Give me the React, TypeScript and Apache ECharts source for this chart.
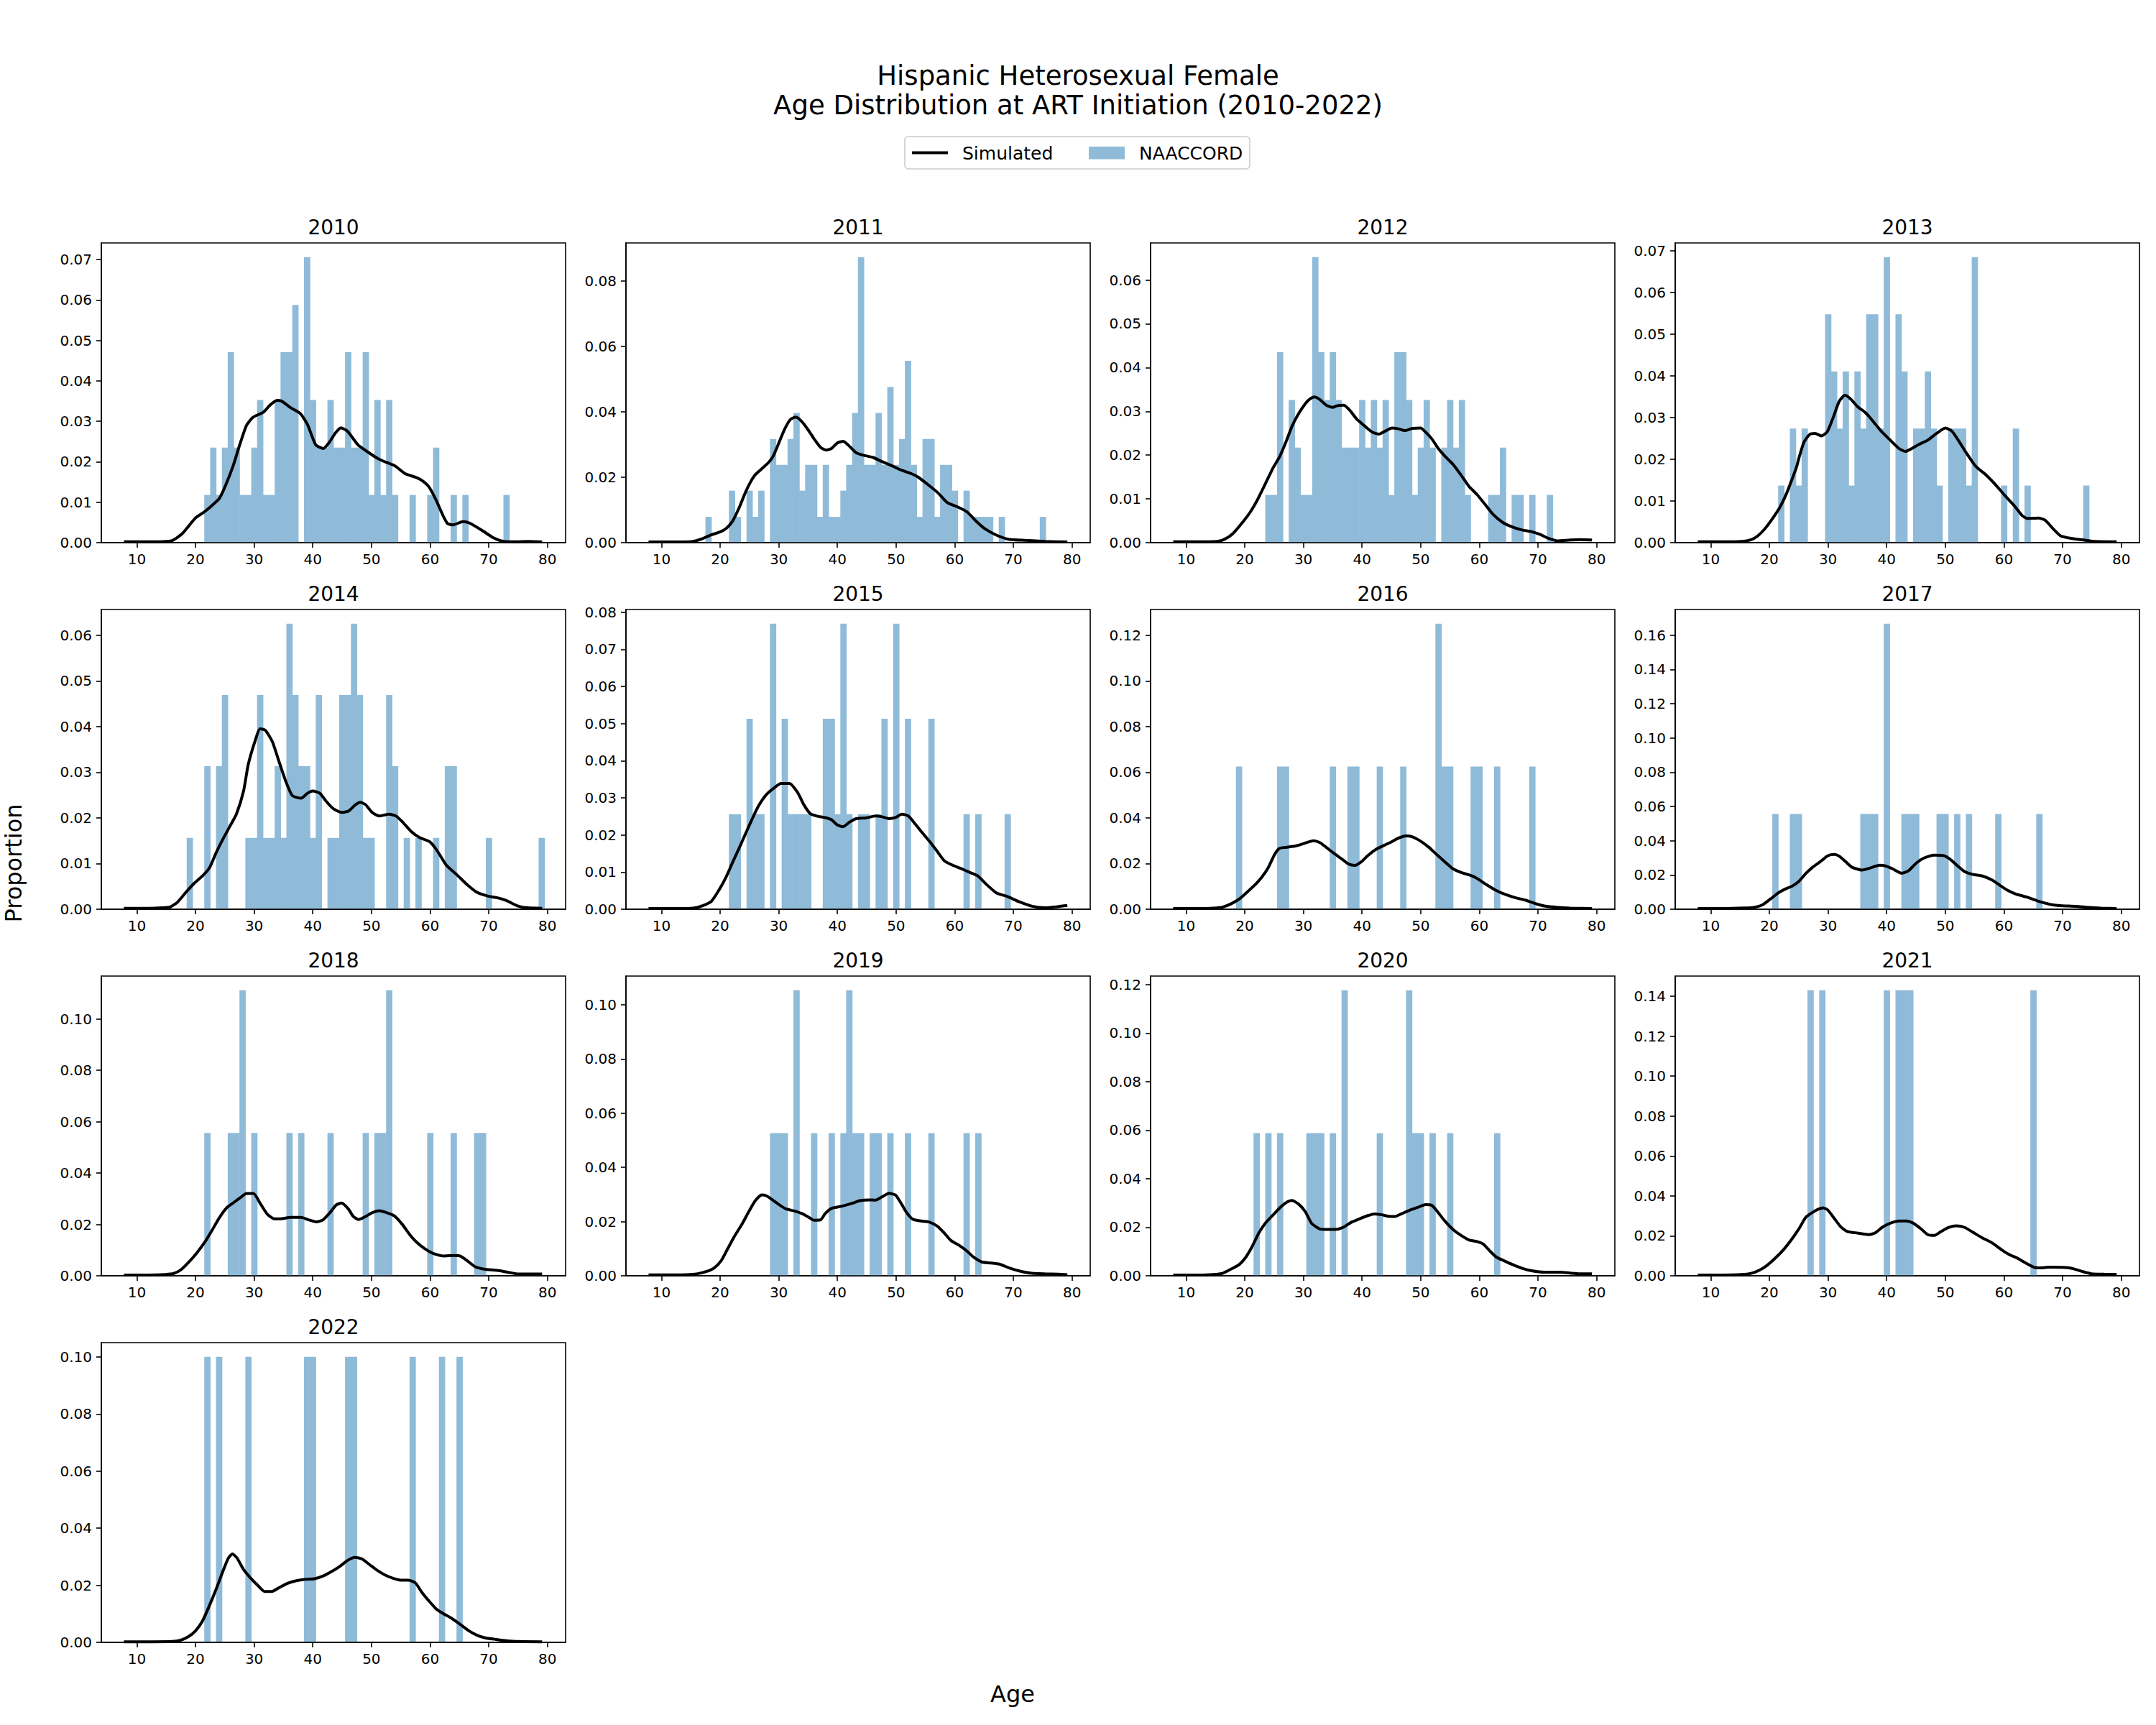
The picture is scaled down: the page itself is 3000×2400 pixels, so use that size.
import React, { useEffect, useRef } from "react";
import * as echarts from "echarts";

type Pt = [number, number];

const YEARS = [2010, 2011, 2012, 2013, 2014, 2015, 2016, 2017, 2018, 2019, 2020, 2021, 2022];
const X_TICKS = [10, 20, 30, 40, 50, 60, 70, 80];
const X_MIN = 3.95;
const X_MAX = 83.1;
const Y_TICK_STEPS = [0.01, 0.02, 0.01, 0.01, 0.01, 0.01, 0.02, 0.02, 0.02, 0.02, 0.02, 0.02, 0.02];

// NAACCORD histogram bars: [age, proportion]
const NAACCORD_2010: Pt[] = [[22,.0118],[23,.0235],[24,.0118],[25,.0235],[26,.0471],[27,.0235],[28,.0118],[29,.0118],[30,.0235],[31,.0353],[32,.0118],[33,.0118],[34,.0353],[35,.0471],[36,.0471],[37,.0588],[39,.0706],[40,.0353],[41,.0235],[42,.0235],[43,.0353],[44,.0235],[45,.0235],[46,.0471],[47,.0235],[48,.0235],[49,.0471],[50,.0118],[51,.0353],[52,.0118],[53,.0353],[54,.0118],[57,.0118],[60,.0118],[61,.0235],[64,.0118],[66,.0118],[73,.0118]];
const NAACCORD_2011: Pt[] = [[18,.0079],[22,.0159],[23,.0079],[25,.0159],[26,.0079],[27,.0159],[29,.0317],[30,.0238],[31,.0238],[32,.0317],[33,.0397],[34,.0159],[35,.0238],[36,.0238],[37,.0079],[38,.0238],[39,.0079],[40,.0079],[41,.0159],[42,.0238],[43,.0397],[44,.0873],[45,.0238],[46,.0238],[47,.0397],[48,.0238],[49,.0476],[50,.0238],[51,.0317],[52,.0556],[53,.0238],[54,.0079],[55,.0317],[56,.0317],[57,.0079],[58,.0238],[59,.0238],[60,.0159],[62,.0159],[63,.0079],[64,.0079],[65,.0079],[66,.0079],[68,.0079],[75,.0079]];
const NAACCORD_2012: Pt[] = [[24,.0109],[25,.0109],[26,.0435],[28,.0326],[29,.0217],[30,.0109],[31,.0109],[32,.0652],[33,.0435],[34,.0326],[35,.0435],[36,.0326],[37,.0217],[38,.0217],[39,.0217],[40,.0326],[41,.0217],[42,.0326],[43,.0217],[44,.0326],[45,.0109],[46,.0435],[47,.0435],[48,.0326],[49,.0109],[50,.0217],[51,.0326],[52,.0217],[54,.0217],[55,.0326],[56,.0217],[57,.0326],[58,.0109],[62,.0109],[63,.0109],[64,.0217],[66,.0109],[67,.0109],[69,.0109],[72,.0109]];
const NAACCORD_2013: Pt[] = [[22,.0137],[24,.0274],[25,.0137],[26,.0274],[30,.0548],[31,.0411],[32,.0274],[33,.0411],[34,.0137],[35,.0411],[36,.0274],[37,.0548],[38,.0548],[39,.0274],[40,.0685],[42,.0548],[43,.0411],[45,.0274],[46,.0274],[47,.0411],[48,.0274],[49,.0137],[51,.0274],[52,.0274],[53,.0274],[54,.0137],[55,.0685],[60,.0137],[62,.0274],[64,.0137],[74,.0137]];
const NAACCORD_2014: Pt[] = [[19,.0156],[22,.0313],[24,.0313],[25,.0469],[29,.0156],[30,.0156],[31,.0469],[32,.0156],[33,.0156],[34,.0313],[35,.0156],[36,.0625],[37,.0469],[38,.0313],[39,.0313],[40,.0156],[41,.0469],[43,.0156],[44,.0156],[45,.0469],[46,.0469],[47,.0625],[48,.0469],[49,.0156],[50,.0156],[53,.0469],[54,.0313],[56,.0156],[58,.0156],[61,.0156],[63,.0313],[64,.0313],[70,.0156],[79,.0156]];
const NAACCORD_2015: Pt[] = [[22,.0256],[23,.0256],[25,.0513],[26,.0256],[27,.0256],[29,.0769],[31,.0513],[32,.0256],[33,.0256],[34,.0256],[35,.0256],[38,.0513],[39,.0513],[40,.0256],[41,.0769],[42,.0256],[44,.0256],[45,.0256],[47,.0256],[48,.0513],[50,.0769],[52,.0513],[56,.0513],[62,.0256],[64,.0256],[69,.0256]];
const NAACCORD_2016: Pt[] = [[19,.0625],[26,.0625],[27,.0625],[35,.0625],[38,.0625],[39,.0625],[43,.0625],[47,.0625],[53,.125],[54,.0625],[55,.0625],[59,.0625],[60,.0625],[63,.0625],[69,.0625]];
const NAACCORD_2017: Pt[] = [[21,.0556],[24,.0556],[25,.0556],[36,.0556],[37,.0556],[38,.0556],[40,.1667],[43,.0556],[44,.0556],[45,.0556],[49,.0556],[50,.0556],[52,.0556],[54,.0556],[59,.0556],[66,.0556]];
const NAACCORD_2018: Pt[] = [[22,.0556],[26,.0556],[27,.0556],[28,.1111],[30,.0556],[36,.0556],[38,.0556],[43,.0556],[49,.0556],[51,.0556],[52,.0556],[53,.1111],[60,.0556],[64,.0556],[68,.0556],[69,.0556]];
const NAACCORD_2019: Pt[] = [[29,.0526],[30,.0526],[31,.0526],[33,.1053],[36,.0526],[39,.0526],[41,.0526],[42,.1053],[43,.0526],[44,.0526],[46,.0526],[47,.0526],[49,.0526],[52,.0526],[56,.0526],[62,.0526],[64,.0526]];
const NAACCORD_2020: Pt[] = [[22,.0588],[24,.0588],[26,.0588],[31,.0588],[32,.0588],[33,.0588],[35,.0588],[37,.1176],[43,.0588],[48,.1176],[49,.0588],[50,.0588],[52,.0588],[55,.0588],[63,.0588]];
const NAACCORD_2021: Pt[] = [[27,.1429],[29,.1429],[40,.1429],[42,.1429],[43,.1429],[44,.1429],[65,.1429]];
const NAACCORD_2022: Pt[] = [[22,.1],[24,.1],[29,.1],[39,.1],[40,.1],[46,.1],[47,.1],[57,.1],[62,.1],[65,.1]];

// Simulated density curves: [age, density]
const SIMULATED_2010: Pt[] = [[7.8,.0002],[12,.0002],[16,.0005],[17.8,.0023],[20,.0061],[21.5,.0076],[22.9,.0093],[24.1,.011],[25.2,.0144],[26.4,.0189],[27.5,.024],[28.7,.029],[29.8,.031],[31.6,.0323],[32.7,.034],[33.9,.0352],[34.7,.035],[36.2,.0334],[37.9,.0319],[39.1,.0292],[40.5,.0242],[41.8,.0233],[42.8,.0248],[43.9,.0272],[44.8,.0284],[45.9,.0276],[47.7,.0242],[49.4,.0224],[51.1,.0208],[52.3,.02],[54,.019],[55.8,.017],[57.5,.0162],[58.6,.0154],[59.8,.0138],[61,.0106],[62.2,.0067],[63,.0047],[63.9,.0044],[65.6,.0052],[66.8,.0048],[69.1,.0028],[70.8,.0012],[72.6,.0003],[74.8,.0002],[76.6,.0003],[79.1,.0002]];
const SIMULATED_2011: Pt[] = [[7.8,.0002],[12,.0002],[15.4,.0004],[17.1,.0013],[18.5,.0024],[19.9,.0032],[21,.0043],[22.1,.0065],[23.2,.0105],[24.3,.0153],[25.2,.0186],[26,.0208],[27.1,.0226],[28.2,.0244],[29,.0263],[29.9,.03],[31,.0347],[32,.0377],[32.9,.0384],[34,.0369],[35.2,.034],[36,.0318],[37.1,.0292],[38.1,.0283],[39,.0288],[40,.0305],[41,.031],[42.1,.0294],[43.2,.0275],[44.3,.0268],[46,.0261],[47.6,.0248],[49.3,.0235],[51,.0221],[52.6,.0211],[53.8,.02],[55.4,.0178],[57.1,.0153],[58.7,.0123],[60.4,.011],[62.1,.0094],[63.7,.0065],[65.1,.0043],[67.1,.0023],[69.3,.001],[72.1,.0007],[75.4,.0004],[79.2,.0002]];
const SIMULATED_2012: Pt[] = [[7.8,.0002],[12,.0002],[15.3,.0003],[16.6,.0008],[18,.0021],[19.9,.0051],[21,.0071],[22.1,.0096],[23.5,.0134],[24.8,.017],[25.9,.0195],[27,.0229],[28.1,.0267],[29.2,.0295],[30.3,.0317],[31.1,.0328],[31.9,.0333],[32.8,.0327],[33.9,.0314],[35,.0309],[35.8,.0313],[36.9,.0314],[38,.0301],[39.1,.0282],[40.4,.0267],[41.8,.0252],[42.9,.0248],[44,.0255],[45.1,.0262],[46.2,.026],[47.3,.0256],[48.6,.0261],[50,.0262],[50.8,.0253],[51.9,.0237],[53,.0215],[54.1,.0198],[55.5,.0179],[56.9,.0154],[58.2,.0129],[59.6,.011],[61,.0087],[62.3,.0065],[64,.0046],[65.6,.0036],[67.3,.0029],[68.9,.0025],[70.3,.0019],[71.6,.0011],[73.3,.0004],[75.5,.0006],[77.1,.0007],[79.2,.0006]];
const SIMULATED_2013: Pt[] = [[7.8,.0002],[12,.0002],[15.3,.0003],[16.9,.0007],[18,.0016],[19.1,.0031],[20.2,.0051],[21.8,.0085],[22.9,.0117],[23.7,.0146],[24.6,.018],[25.1,.0206],[25.9,.0241],[26.9,.026],[27.8,.0262],[28.9,.0256],[29.9,.0267],[30.9,.0301],[31.9,.0339],[32.9,.0354],[33.9,.0344],[35,.0327],[36.3,.0313],[37.1,.0301],[39.1,.0267],[40.4,.0249],[42.1,.0226],[43.2,.0219],[44.3,.0226],[45.4,.0235],[47,.0246],[48.4,.0261],[50,.0275],[51.1,.0268],[52.2,.0246],[53.6,.0215],[55.2,.0183],[56.9,.0163],[58.5,.014],[60.1,.0114],[61.8,.0088],[63.1,.0065],[64,.0058],[65.9,.0059],[67,.0054],[68.4,.0033],[69.7,.0016],[71.6,.001],[73.8,.0006],[75.5,.0003],[79.2,.0002]];
const SIMULATED_2014: Pt[] = [[7.8,.0002],[12,.0002],[14.3,.0003],[15.7,.0005],[16.9,.0015],[18.3,.0036],[19.8,.0057],[21.2,.0073],[22.4,.0091],[23.5,.0123],[24.7,.0154],[25.8,.018],[27,.0209],[28.2,.0259],[29,.0317],[30.2,.037],[31,.0395],[31.9,.0392],[33.1,.0367],[34.2,.0325],[35.4,.028],[36.5,.0249],[38,.0243],[39.1,.0254],[40,.0259],[41.2,.0254],[42.3,.0236],[43.5,.022],[44.9,.0212],[46.1,.0215],[47.2,.0228],[48.1,.0234],[49,.0229],[50.1,.0212],[51.3,.0204],[53,.0208],[54.2,.0204],[55.3,.0191],[56.8,.017],[58.2,.0157],[59.9,.0148],[61.1,.013],[62.8,.0096],[64.6,.0075],[66.3,.0054],[68,.0037],[69.8,.0029],[71.5,.0025],[73,.0019],[75,.0007],[76.7,.0003],[79.1,.0002]];
const SIMULATED_2015: Pt[] = [[7.8,.0002],[12,.0002],[15.4,.0003],[17.1,.001],[18.5,.0021],[19.9,.0054],[21,.0086],[22.1,.0125],[23.2,.0163],[24.3,.0202],[25.4,.0241],[26.5,.0277],[27.9,.0309],[29.3,.0328],[30.4,.0339],[31.8,.0339],[33.2,.0315],[34.3,.0281],[35.4,.0257],[36.5,.0251],[37.9,.0247],[39,.0241],[39.9,.0228],[40.9,.0222],[42.1,.0235],[43.2,.0244],[44.9,.0246],[46.5,.0251],[47.6,.0249],[48.8,.0244],[49.9,.0247],[51,.0256],[52.1,.0251],[53.2,.0231],[54.3,.0209],[55.7,.0183],[57.1,.0154],[58.2,.0131],[59.3,.0121],[61,.011],[62.6,.0099],[64,.0089],[65.4,.0067],[67.1,.0044],[69,.0034],[71,.002],[73.2,.0008],[75.4,.0004],[77.6,.0007],[79.2,.001]];
const SIMULATED_2016: Pt[] = [[7.8,.0003],[12,.0003],[14.7,.0005],[16.3,.001],[17.7,.0024],[19.1,.0045],[20.5,.0077],[21.8,.0108],[22.9,.014],[24,.0182],[25.1,.024],[25.9,.0266],[27,.0271],[28.7,.0277],[30,.0287],[31.7,.03],[32.8,.0292],[33.9,.0271],[35.2,.0245],[36.6,.0219],[37.7,.0198],[38.8,.0192],[39.9,.0208],[41,.0235],[42.3,.0261],[43.7,.0279],[44.8,.0292],[46.2,.0311],[47.5,.0321],[48.6,.0317],[50,.0298],[51.4,.0271],[52.7,.024],[54.1,.0208],[55.5,.0177],[56.9,.0161],[58.5,.0148],[59.6,.0135],[61.2,.0108],[62.9,.0082],[64.5,.0064],[66.2,.005],[67.8,.004],[69.4,.0026],[71.1,.0014],[73.3,.0008],[75.5,.0005],[79.2,.0003]];
const SIMULATED_2017: Pt[] = [[7.8,.0004],[12,.0004],[15.8,.0007],[17.4,.0011],[18.8,.0025],[20.2,.006],[21.5,.0095],[22.6,.0116],[24,.0137],[25.1,.0165],[26.2,.0208],[27.3,.0243],[28.7,.0278],[30,.0313],[31.1,.032],[31.9,.031],[33,.0278],[34.1,.0245],[35.8,.0229],[37.1,.024],[38.8,.0257],[39.9,.0252],[41,.0236],[42.6,.021],[43.7,.0224],[45.1,.0271],[46.5,.0301],[48.1,.0316],[49.7,.0313],[50.8,.0292],[52.2,.025],[53.3,.0219],[54.7,.0203],[56.3,.0194],[58,.017],[59.6,.0133],[60.7,.0109],[62.1,.0088],[64,.007],[65.6,.005],[67.8,.0029],[69.5,.0021],[72.2,.0017],[74.4,.001],[76.6,.0006],[79.2,.0004]];
const SIMULATED_2018: Pt[] = [[7.8,.0003],[12,.0003],[14.9,.0005],[16.3,.0009],[17.5,.0023],[18.9,.0054],[20.3,.0091],[21.8,.0138],[22.9,.018],[24.1,.0227],[25.3,.0264],[26.4,.0283],[27.6,.0303],[28.7,.032],[29.9,.032],[31,.0283],[32.2,.0241],[33.4,.0222],[34.5,.0222],[36.2,.0227],[38,.0227],[39.4,.0217],[40.6,.021],[41.7,.0217],[42.9,.0245],[44,.0276],[44.9,.0283],[46.1,.0259],[46.9,.0231],[47.8,.0219],[49,.0231],[50.1,.0245],[51.3,.0253],[52.4,.0247],[53.9,.0233],[55.3,.0199],[56.5,.0161],[57.6,.0133],[59.1,.0105],[60.5,.0087],[62.3,.0077],[64,.0079],[65.1,.0077],[66.3,.0059],[67.7,.0035],[69.2,.0026],[71.5,.0021],[73.2,.0014],[75,.0007],[77.3,.0007],[79.1,.0007]];
const SIMULATED_2019: Pt[] = [[7.8,.0003],[12,.0003],[14.3,.0004],[16,.0007],[17.7,.0016],[19,.0029],[20.2,.0056],[21.3,.01],[22.4,.0144],[23.8,.0193],[24.9,.0237],[26,.0277],[27.1,.0298],[27.9,.0295],[29,.0279],[30.2,.026],[31.3,.0246],[32.7,.0239],[34,.0229],[35.2,.0215],[36,.0205],[37.1,.0206],[37.9,.0229],[39,.0249],[40.4,.0255],[41.5,.0261],[42.6,.0268],[43.8,.0277],[45.4,.028],[46.5,.0279],[47.6,.0291],[48.8,.0304],[49.9,.0298],[50.7,.0273],[51.8,.0233],[52.9,.0208],[54.3,.0202],[55.7,.0198],[57.1,.0182],[58.2,.0158],[59.3,.0131],[60.7,.0113],[62.1,.0091],[63.2,.0069],[64.6,.0051],[66.2,.0047],[67.6,.0043],[69.3,.0029],[71,.0018],[73.2,.0009],[75.4,.0007],[77.6,.0006],[79.2,.0004]];
const SIMULATED_2020: Pt[] = [[7.8,.0003],[12,.0003],[14.7,.0005],[16.3,.0011],[17.7,.0028],[19.1,.0047],[20.2,.0077],[21.3,.0122],[22.4,.0176],[23.5,.0216],[24.8,.025],[26.2,.0285],[27.3,.0305],[28.1,.031],[29.2,.0295],[30.3,.0265],[31.4,.0216],[32.8,.0193],[34.1,.0191],[35.5,.0191],[36.9,.0201],[38.2,.0221],[39.6,.0235],[41,.0248],[42.1,.0255],[43.2,.0252],[44.6,.0245],[45.6,.0244],[46.7,.0255],[48.1,.027],[49.5,.0282],[50.8,.0293],[51.9,.029],[53,.026],[54.1,.0226],[55.5,.0191],[56.9,.0166],[58.2,.0148],[59.6,.0141],[60.7,.013],[61.8,.0102],[62.9,.0077],[64.2,.0062],[65.6,.0047],[67.3,.0031],[68.9,.0021],[71.1,.0015],[73.8,.0015],[75.5,.0011],[77.1,.0008],[79.2,.0008]];
const SIMULATED_2021: Pt[] = [[7.8,.0004],[12,.0004],[15.3,.0006],[16.9,.0012],[18.3,.0028],[19.6,.0052],[21,.0088],[22.4,.013],[23.7,.0178],[25.1,.0238],[26.2,.0292],[27.3,.0316],[28.4,.0334],[29.2,.034],[30,.0328],[31.1,.0286],[32.2,.0244],[33.3,.0222],[35,.0214],[36.9,.0206],[38,.0214],[39.3,.0244],[40.7,.0264],[42.1,.0274],[43.4,.0274],[44.5,.0264],[45.9,.0234],[47,.0206],[48.1,.0202],[49.2,.022],[50.6,.0242],[51.9,.025],[53.3,.0242],[54.7,.0218],[56.3,.019],[57.9,.0166],[59.6,.013],[60.9,.0106],[62.3,.0088],[63.7,.0064],[65.1,.0043],[66.2,.004],[67.8,.0043],[70,.0042],[71.6,.0037],[73.3,.0022],[74.9,.001],[77.1,.0008],[79.2,.0007]];
const SIMULATED_2022: Pt[] = [[7.8,.0002],[12,.0002],[16,.0003],[17.5,.0008],[18.8,.002],[20,.004],[21.2,.0075],[22.3,.0125],[23.5,.0185],[24.6,.0245],[25.6,.0295],[26.3,.031],[27.1,.0295],[28.2,.0255],[29.4,.0225],[30.6,.02],[31.8,.0178],[33,.0178],[34.3,.0192],[35.7,.0207],[37.2,.0216],[38.8,.0221],[40.3,.0223],[41.7,.0232],[43.2,.0248],[44.6,.0266],[46,.0288],[47.2,.0298],[48.4,.0292],[49.7,.0272],[51,.0252],[52.3,.0236],[53.6,.0225],[55,.0218],[56.3,.0218],[57.5,.0208],[58.6,.0175],[59.8,.0145],[61,.0118],[62.3,.01],[63.6,.0085],[65,.0065],[66.5,.0042],[68,.0025],[69.5,.0015],[71,.0011],[73,.0006],[75,.0003],[79.1,.0002]];

const NAACCORD = [NAACCORD_2010, NAACCORD_2011, NAACCORD_2012, NAACCORD_2013, NAACCORD_2014, NAACCORD_2015, NAACCORD_2016, NAACCORD_2017, NAACCORD_2018, NAACCORD_2019, NAACCORD_2020, NAACCORD_2021, NAACCORD_2022];
const SIMULATED = [SIMULATED_2010, SIMULATED_2011, SIMULATED_2012, SIMULATED_2013, SIMULATED_2014, SIMULATED_2015, SIMULATED_2016, SIMULATED_2017, SIMULATED_2018, SIMULATED_2019, SIMULATED_2020, SIMULATED_2021, SIMULATED_2022];

const FONT = "DejaVu Sans";
const BAR_COLOR = "#8fbbd9";
const LINE_W = 4;
const COL_LEFT = 141;
const COL_STEP = 730;
const PANEL_W = 646;
const ROW_TOP = 338;
const ROW_STEP = 510;
const PANEL_H = 417;

function buildOption() {
  const grids: any[] = [];
  const xAxes: any[] = [];
  const yAxes: any[] = [];
  const series: any[] = [];
  const graphics: any[] = [];

  YEARS.forEach((year, i) => {
    const col = i % 4;
    const row = Math.floor(i / 4);
    const left = COL_LEFT + col * COL_STEP;
    const top = ROW_TOP + row * ROW_STEP;
    grids.push({
      left,
      top,
      width: PANEL_W,
      height: PANEL_H,
      show: true,
      borderColor: "#000",
      borderWidth: 1.6,
      backgroundColor: "transparent",
      outerBoundsMode: "none",
      containLabel: false,
    });
    const bars = NAACCORD[i];
    const peak = Math.max(...bars.map((b) => b[1]));
    const yMax = peak * 1.05;
    const step = Y_TICK_STEPS[i];
    const yTicks: number[] = [];
    for (let k = 0; k * step <= yMax + 1e-9; k++) yTicks.push(+(k * step).toFixed(4));

    xAxes.push({
      type: "value",
      gridIndex: i,
      min: X_MIN,
      max: X_MAX,
      z: 10,
      axisLine: { show: true, onZero: false, lineStyle: { color: "#000", width: 1.6 } },
      axisTick: { show: true, customValues: X_TICKS, length: 7, lineStyle: { color: "#000", width: 1.6 } },
      axisLabel: { show: true, customValues: X_TICKS, margin: 13, fontFamily: FONT, fontSize: 20, color: "#000" },
      splitLine: { show: false },
    });
    yAxes.push({
      type: "value",
      gridIndex: i,
      min: 0,
      max: yMax,
      z: 10,
      axisLine: { show: true, lineStyle: { color: "#000", width: 1.6 } },
      axisTick: { show: true, customValues: yTicks, length: 7, lineStyle: { color: "#000", width: 1.6 } },
      axisLabel: {
        show: true,
        customValues: yTicks,
        margin: 13,
        fontFamily: FONT,
        fontSize: 20,
        color: "#000",
        formatter: (v: number) => v.toFixed(2),
      },
      splitLine: { show: false },
    });
    series.push({
      type: "custom",
      name: "NAACCORD",
      xAxisIndex: i,
      yAxisIndex: i,
      z: 2,
      clip: true,
      encode: { x: [0, 1], y: 2 },
      data: bars.map(([age, p]) => [age - 0.5, age + 0.5, p]),
      renderItem: (params: any, api: any) => {
        const tl = api.coord([api.value(0), api.value(2)]);
        const br = api.coord([api.value(1), 0]);
        return {
          type: "rect",
          shape: { x: tl[0], y: tl[1], width: br[0] - tl[0] + 0.6, height: br[1] - tl[1] },
          style: { fill: BAR_COLOR },
        };
      },
    });
    series.push({
      type: "line",
      name: "Simulated",
      xAxisIndex: i,
      yAxisIndex: i,
      z: 3,
      showSymbol: false,
      smooth: 0.2,
      lineStyle: { color: "#000", width: LINE_W },
      data: SIMULATED[i],
    });
    graphics.push({
      type: "text",
      x: left + PANEL_W / 2,
      y: top - 22,
      style: {
        text: String(year),
        font: `28px '${FONT}'`,
        fill: "#000",
        textAlign: "center",
        textVerticalAlign: "middle",
      },
    });
  });

  // Suptitle
  graphics.push({
    type: "text",
    x: 1500,
    y: 105,
    style: { text: "Hispanic Heterosexual Female", font: `37px '${FONT}'`, fill: "#000", textAlign: "center", textVerticalAlign: "middle" },
  });
  graphics.push({
    type: "text",
    x: 1500,
    y: 146,
    style: { text: "Age Distribution at ART Initiation (2010-2022)", font: `37px '${FONT}'`, fill: "#000", textAlign: "center", textVerticalAlign: "middle" },
  });
  // Axis labels
  graphics.push({
    type: "text",
    x: 1409,
    y: 2357,
    style: { text: "Age", font: `32px '${FONT}'`, fill: "#000", textAlign: "center", textVerticalAlign: "middle" },
  });
  graphics.push({
    type: "text",
    x: 19,
    y: 1201,
    rotation: Math.PI / 2,
    style: { text: "Proportion", font: `32px '${FONT}'`, fill: "#000", textAlign: "center", textVerticalAlign: "middle" },
  });
  // Legend
  graphics.push({
    type: "rect",
    shape: { x: 1259, y: 190, width: 480, height: 45, r: 5 },
    style: { fill: "rgba(255,255,255,0.8)", stroke: "#cccccc", lineWidth: 1.6 },
  });
  graphics.push({
    type: "line",
    shape: { x1: 1269, y1: 212.5, x2: 1319, y2: 212.5 },
    style: { stroke: "#000", lineWidth: LINE_W },
  });
  graphics.push({
    type: "text",
    x: 1339,
    y: 213,
    style: { text: "Simulated", font: `25px '${FONT}'`, fill: "#000", textAlign: "left", textVerticalAlign: "middle" },
  });
  graphics.push({
    type: "rect",
    shape: { x: 1515, y: 204, width: 50, height: 17.5 },
    style: { fill: BAR_COLOR },
  });
  graphics.push({
    type: "text",
    x: 1585,
    y: 213,
    style: { text: "NAACCORD", font: `25px '${FONT}'`, fill: "#000", textAlign: "left", textVerticalAlign: "middle" },
  });

  return {
    animation: false,
    backgroundColor: "#fff",
    grid: grids,
    xAxis: xAxes,
    yAxis: yAxes,
    series,
    graphic: { elements: graphics },
  };
}

export default function App() {
  const ref = useRef<HTMLDivElement>(null);
  useEffect(() => {
    if (!ref.current) return;
    const chart = echarts.init(ref.current, undefined, { renderer: "svg" });
    chart.setOption(buildOption() as any);
    return () => chart.dispose();
  }, []);
  return (
    <div
      ref={ref}
      style={{ position: "absolute", left: 0, top: 0, width: 3000, height: 2400, background: "#fff" }}
    />
  );
}
